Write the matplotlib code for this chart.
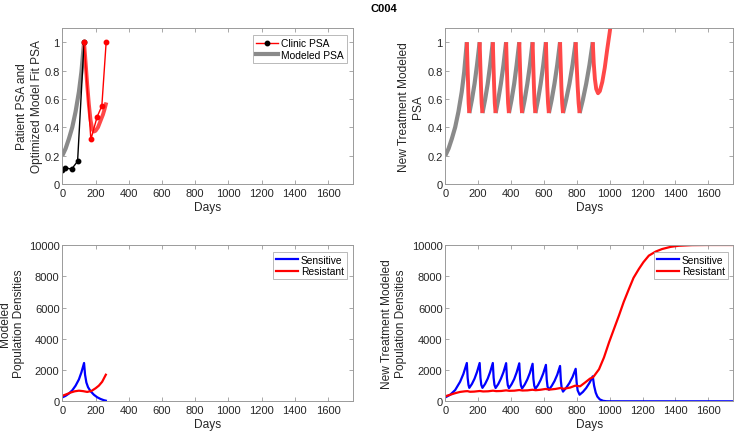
import matplotlib
matplotlib.use("Agg")
import matplotlib.pyplot as plt
from matplotlib.lines import Line2D

plt.rcParams['font.family'] = ['Liberation Sans', 'DejaVu Sans']

# ---------------- data ----------------
# Clinic PSA (normalised)
clinic_off_days = [0, 14, 56, 92, 131]
clinic_off_psa = [0.10, 0.115, 0.105, 0.16, 1.0]
clinic_on_days = [131, 172, 210, 238, 264]
clinic_on_psa = [1.0, 0.315, 0.475, 0.55, 1.0]

# Optimised model fit PSA
fit_off_days = [0, 20, 40, 60, 80, 100, 115, 131]
fit_off_psa = [0.20, 0.25, 0.32, 0.40, 0.51, 0.65, 0.79, 1.0]
fit_on_days = [131, 140, 150, 160, 170, 180, 190, 200, 215, 230, 245, 255, 265]
fit_on_psa = [1.0, 0.86, 0.70, 0.56, 0.45, 0.39, 0.37, 0.375, 0.40, 0.445, 0.49, 0.53, 0.575]

# Fitted population densities
fit_days_s = [0, 20, 40, 60, 80, 100, 115, 131, 137, 145, 155, 170, 190, 210, 230, 250, 262]
fit_sens = [250, 350, 500, 700, 1000, 1400, 1850, 2450, 1700, 1200, 900, 650, 420, 260, 150, 70, 40]
fit_days_r = [0, 25, 50, 75, 100, 125, 150, 175, 200, 220, 240, 262]
fit_res = [350, 450, 560, 640, 680, 650, 600, 660, 830, 1000, 1250, 1700]

# New treatment modeled PSA: off-treatment (grey) segments
new_off_days = [
    [0, 20, 40, 60, 80, 100, 115, 131],
    [146, 162, 178, 193, 209],
    [226, 242, 258, 273, 289],
    [306, 322, 338, 354, 370],
    [387, 403, 419, 434, 450],
    [467, 483, 499, 515, 531],
    [548, 564, 580, 596, 612],
    [630, 647, 664, 681, 698],
    [716, 735, 755, 774, 793],
    [817, 837, 857, 877, 897],
]
new_off_psa = [
    [0.20, 0.25, 0.32, 0.40, 0.51, 0.65, 0.79, 1.0],
    [0.50, 0.595, 0.707, 0.84, 1.0],
    [0.50, 0.595, 0.707, 0.84, 1.0],
    [0.50, 0.595, 0.707, 0.84, 1.0],
    [0.50, 0.595, 0.707, 0.84, 1.0],
    [0.50, 0.595, 0.707, 0.84, 1.0],
    [0.50, 0.595, 0.707, 0.84, 1.0],
    [0.50, 0.595, 0.707, 0.84, 1.0],
    [0.50, 0.595, 0.707, 0.84, 1.0],
    [0.50, 0.595, 0.707, 0.84, 1.0],
]
# on-treatment (red) segments
new_on_days = [
    [131, 135, 139, 142, 146],
    [209, 213, 217, 221, 226],
    [289, 293, 297, 301, 306],
    [370, 374, 378, 382, 387],
    [450, 454, 458, 462, 467],
    [531, 535, 539, 543, 548],
    [612, 616, 620, 625, 630],
    [698, 702, 706, 711, 716],
    [793, 799, 805, 811, 817],
    [897, 903, 910, 918, 929, 940, 955, 970, 985, 1000, 1015],
]
new_on_psa = [
    [1.0, 0.84, 0.69, 0.57, 0.50],
    [1.0, 0.84, 0.69, 0.57, 0.50],
    [1.0, 0.84, 0.69, 0.57, 0.50],
    [1.0, 0.84, 0.69, 0.57, 0.50],
    [1.0, 0.84, 0.69, 0.57, 0.50],
    [1.0, 0.84, 0.69, 0.57, 0.50],
    [1.0, 0.84, 0.69, 0.57, 0.50],
    [1.0, 0.84, 0.69, 0.57, 0.50],
    [1.0, 0.84, 0.69, 0.57, 0.50],
    [1.0, 0.85, 0.74, 0.67, 0.64, 0.655, 0.72, 0.82, 0.95, 1.07, 1.2],
]

# New treatment population densities
new_days_s = [0, 30, 60, 90, 110, 131,
              136, 141, 146, 162, 178, 193, 209,
              214, 219, 226, 242, 258, 273, 289,
              294, 299, 306, 322, 338, 354, 370,
              375, 380, 387, 403, 419, 434, 450,
              455, 460, 467, 483, 499, 515, 531,
              536, 541, 548, 564, 580, 596, 612,
              617, 622, 630, 647, 664, 681, 698,
              703, 708, 716, 735, 755, 774, 793,
              799, 805, 817, 837, 857, 877, 897,
              905, 915, 925, 940, 960, 980, 1000, 1750]
new_sens = [250, 420, 720, 1250, 1750, 2450,
            1500, 1050, 860, 1110, 1450, 1880, 2450,
            1500, 1050, 860, 1110, 1450, 1880, 2450,
            1500, 1050, 850, 1100, 1440, 1870, 2440,
            1480, 1040, 840, 1090, 1420, 1850, 2430,
            1460, 1020, 820, 1070, 1400, 1830, 2400,
            1430, 1000, 800, 1040, 1370, 1790, 2330,
            1380, 940, 740, 980, 1290, 1700, 2260,
            1300, 850, 620, 860, 1170, 1560, 2080,
            1200, 700, 420, 600, 850, 1180, 1600,
            1000, 550, 300, 120, 30, 5, 0, 0]
new_days_r = [0, 30, 60, 90, 120, 135, 150, 175, 210, 230, 260, 290, 310, 340,
              370, 390, 420, 450, 470, 500, 530, 550, 580, 610, 635, 670, 700,
              720, 760, 790, 820, 850, 880, 900, 935, 965, 996, 1025, 1056, 1085,
              1117, 1145, 1177, 1205, 1238, 1280, 1318, 1370, 1419, 1500, 1600, 1750]
new_res = [320, 420, 520, 600, 640, 650, 610, 620, 660, 630, 640, 680, 650, 660,
           700, 670, 680, 720, 690, 700, 740, 710, 740, 790, 750, 790, 850,
           800, 880, 1000, 960, 1200, 1450, 1550, 2050, 2800, 3770, 4600, 5480, 6350,
           7190, 7900, 8460, 8900, 9320, 9580, 9740, 9880, 9950, 9990, 10000, 10000]

x_ticks = [0, 200, 400, 600, 800, 1000, 1200, 1400, 1600]
psa_ticks = [0, 0.2, 0.4, 0.6, 0.8, 1.0]
psa_ticklabels = ['0', '0.2', '0.4', '0.6', '0.8', '1']
pop_ticks = [0, 2000, 4000, 6000, 8000, 10000]

# ---------------- styles ----------------
GREY = '#8a8a8a'
LRED = '#ff4848'
TXT = '#262626'
FRAME = '#9a9a9a'
FS = 8.0
LFS = 8.6
LEGFS = 7.4

W, H = 736, 435
fig = plt.figure(figsize=(W / 100, H / 100), dpi=100)


def mk_axes(x0, x1, ytop, ybot):
    return fig.add_axes([x0 / W, (H - ybot) / H, (x1 - x0) / W, (ybot - ytop) / H])


def style(ax, ylim, yticks, yticklabels, ylabel, label_px):
    ax.set_xlim(0, 1750)
    ax.set_ylim(*ylim)
    ax.set_xticks(x_ticks)
    ax.set_yticks(yticks)
    ax.set_yticklabels(yticklabels)
    ax.tick_params(direction='in', top=True, right=True, length=3, width=0.6,
                   color=FRAME, labelcolor=TXT, labelsize=FS)
    ax.tick_params(axis='x', pad=3)
    ax.tick_params(axis='y', pad=2)
    for s in ax.spines.values():
        s.set_color(FRAME)
        s.set_linewidth(0.7)
    ax.set_xlabel('Days', fontsize=LFS, color=TXT, labelpad=2)
    ax.set_ylabel(ylabel, fontsize=LFS, color=TXT, linespacing=1.25)
    ax.yaxis.label.set_va('center')
    bb = ax.get_position()
    ax.yaxis.set_label_coords((label_px / W - bb.x0) / bb.width, 0.5)


def legend(ax, handles, labels, ax_x, ax_y):
    lg = ax.legend(handles, labels, loc='upper right', fontsize=LEGFS,
                   frameon=True, fancybox=False, edgecolor=FRAME, borderpad=0.3,
                   labelspacing=0.15, handlelength=2.1, handletextpad=0.3,
                   bbox_to_anchor=(ax_x, ax_y), borderaxespad=0)
    lg.get_frame().set_linewidth(0.6)


ax1 = mk_axes(62.3, 353, 29, 185)
ax2 = mk_axes(445.3, 733, 29, 185)
ax3 = mk_axes(62.3, 353, 246, 402.3)
ax4 = mk_axes(445.3, 733, 246, 402.3)

# --- top-left ---
ax1.plot(fit_off_days, fit_off_psa, color=GREY, lw=3.0, solid_capstyle='butt')
ax1.plot(fit_on_days, fit_on_psa, color=LRED, lw=2.8, solid_capstyle='butt')
ax1.plot(clinic_off_days, clinic_off_psa, color='black', lw=1.0, marker='o', ms=3.2)
ax1.plot(clinic_on_days, clinic_on_psa, color='red', lw=1.0, marker='o', ms=3.2)
style(ax1, (0, 1.1), psa_ticks, psa_ticklabels,
      'Patient PSA and\nOptimized Model Fit PSA', 29.5)
h1 = [Line2D([], [], color='red', lw=1.0, marker='o', ms=3.2, mfc='black', mec='black'),
      Line2D([], [], color=GREY, lw=3.0)]
legend(ax1, h1, ['Clinic PSA', 'Modeled PSA'], 0.979, 0.955)

# --- top-right ---
for d, v in zip(new_off_days, new_off_psa):
    ax2.plot(d, v, color=GREY, lw=3.0, solid_capstyle='butt')
for d, v in zip(new_on_days, new_on_psa):
    ax2.plot(d, v, color=LRED, lw=2.8, solid_capstyle='butt')
style(ax2, (0, 1.1), psa_ticks, psa_ticklabels, 'New Treatment Modeled\nPSA', 411)

# --- bottom-left ---
l3a, = ax3.plot(fit_days_s, fit_sens, color='#0000ff', lw=1.6)
l3b, = ax3.plot(fit_days_r, fit_res, color='#ff0000', lw=1.6)
style(ax3, (0, 10000), pop_ticks, [str(t) for t in pop_ticks],
      'Modeled\nPopulation Densities', 12)
legend(ax3, [l3a, l3b], ['Sensitive', 'Resistant'], 0.979, 0.957)

# --- bottom-right ---
l4a, = ax4.plot(new_days_s, new_sens, color='#0000ff', lw=1.6)
l4b, = ax4.plot(new_days_r, new_res, color='#ff0000', lw=1.6)
style(ax4, (0, 10000), pop_ticks, [str(t) for t in pop_ticks],
      'New Treatment Modeled\nPopulation Densities', 394)
legend(ax4, [l4a, l4b], ['Sensitive', 'Resistant'], 0.983, 0.957)

fig.text(384 / W, 1 - 8.5 / H, 'C004', ha='center', va='center', fontsize=FS,
         fontweight='bold', color='black')

fig.savefig('out.png', dpi=100, facecolor='white')
